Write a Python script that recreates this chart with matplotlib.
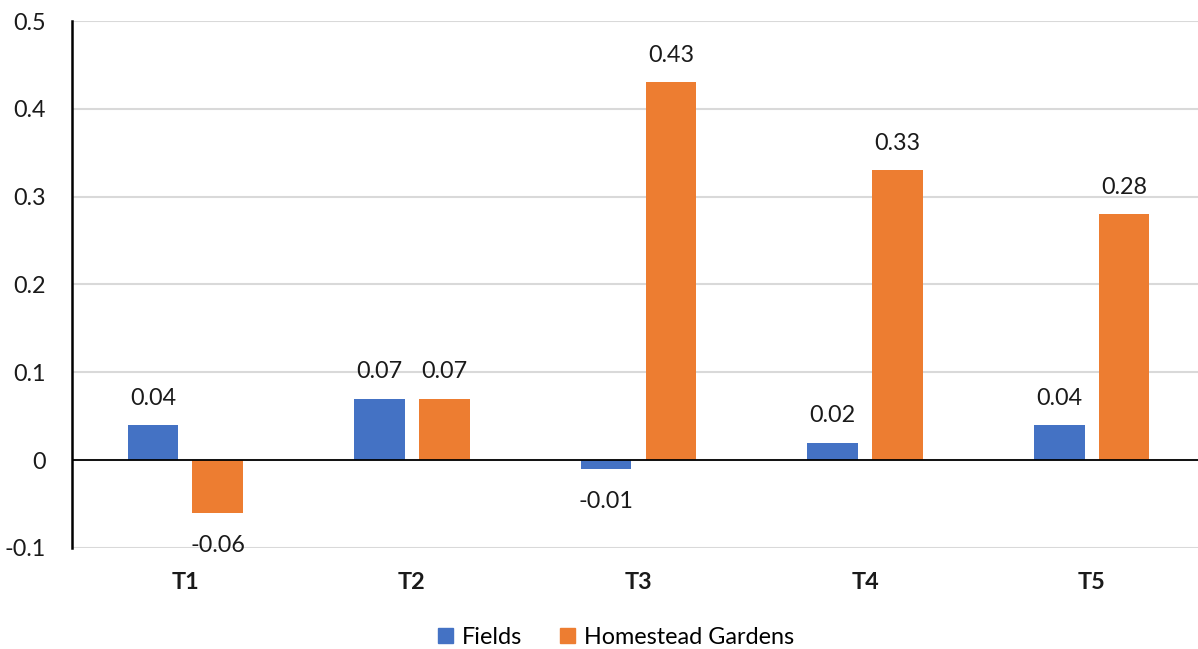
import numpy as np
import matplotlib.pyplot as plt
from matplotlib.patches import Patch

plt.rcParams['font.family'] = ['Lato', 'DejaVu Sans']

categories = ['T1', 'T2', 'T3', 'T4', 'T5']
fields = [0.04, 0.07, -0.01, 0.02, 0.04]
gardens = [-0.06, 0.07, 0.43, 0.33, 0.28]
yticks = [-0.1, 0, 0.1, 0.2, 0.3, 0.4, 0.5]
ytick_labels = ['-0.1', '0', '0.1', '0.2', '0.3', '0.4', '0.5']

blue = '#4472C4'
orange = '#ED7D31'
fs = 16.8

fig = plt.figure(figsize=(11.98, 6.49), dpi=100)
ax = fig.add_axes([72 / 1198, 1 - 548 / 649, (1205 - 72) / 1198, (548 - 21) / 649])

x = np.arange(len(categories))
w = 0.224
off = 0.143
b1 = ax.bar(x - off, fields, w, color=blue, zorder=3)
b2 = ax.bar(x + off, gardens, w, color=orange, zorder=3)


def label_bars(bars, vals):
    # value labels sit above positive bars and below negative ones
    for bar, v in zip(bars, vals):
        cx = bar.get_x() + bar.get_width() / 2
        dy = 27 * 0.72 if v >= 0 else -33 * 0.72
        ax.annotate(f'{v:.2f}', (cx, v), xytext=(0, dy), textcoords='offset points',
                    ha='center', va='center', fontsize=fs, color='#1a1a1a')


label_bars(b1, fields)
label_bars(b2, gardens)

ax.set_xlim(-0.5, len(categories) - 0.5)
ax.set_ylim(-0.1, 0.5)
ax.set_yticks(yticks)
ax.set_yticklabels(ytick_labels)
ax.set_xticks(x)
ax.set_xticklabels(categories, fontweight='bold')

ax.grid(axis='y', color='#D9D9D9', linewidth=1.5, zorder=0)
ax.axhline(0, color='black', linewidth=1.3, zorder=4)

for s in ['top', 'right', 'bottom']:
    ax.spines[s].set_visible(False)
ax.spines['left'].set_color('black')
ax.spines['left'].set_linewidth(1.8)
ax.spines['left'].set_zorder(5)

ax.tick_params(axis='both', length=0, labelsize=fs, colors='#1a1a1a')
ax.tick_params(axis='y', pad=19)
ax.tick_params(axis='x', pad=17)

handles = [Patch(color=blue, label='Fields'), Patch(color=orange, label='Homestead Gardens')]
fig.legend(handles=handles, loc='center', bbox_to_anchor=(616 / 1198, 1 - 637 / 649), ncol=2,
           frameon=False, fontsize=fs, handlelength=0.65, handleheight=0.65,
           handletextpad=0.4, columnspacing=1.6)

fig.savefig('out.png', dpi=100)
